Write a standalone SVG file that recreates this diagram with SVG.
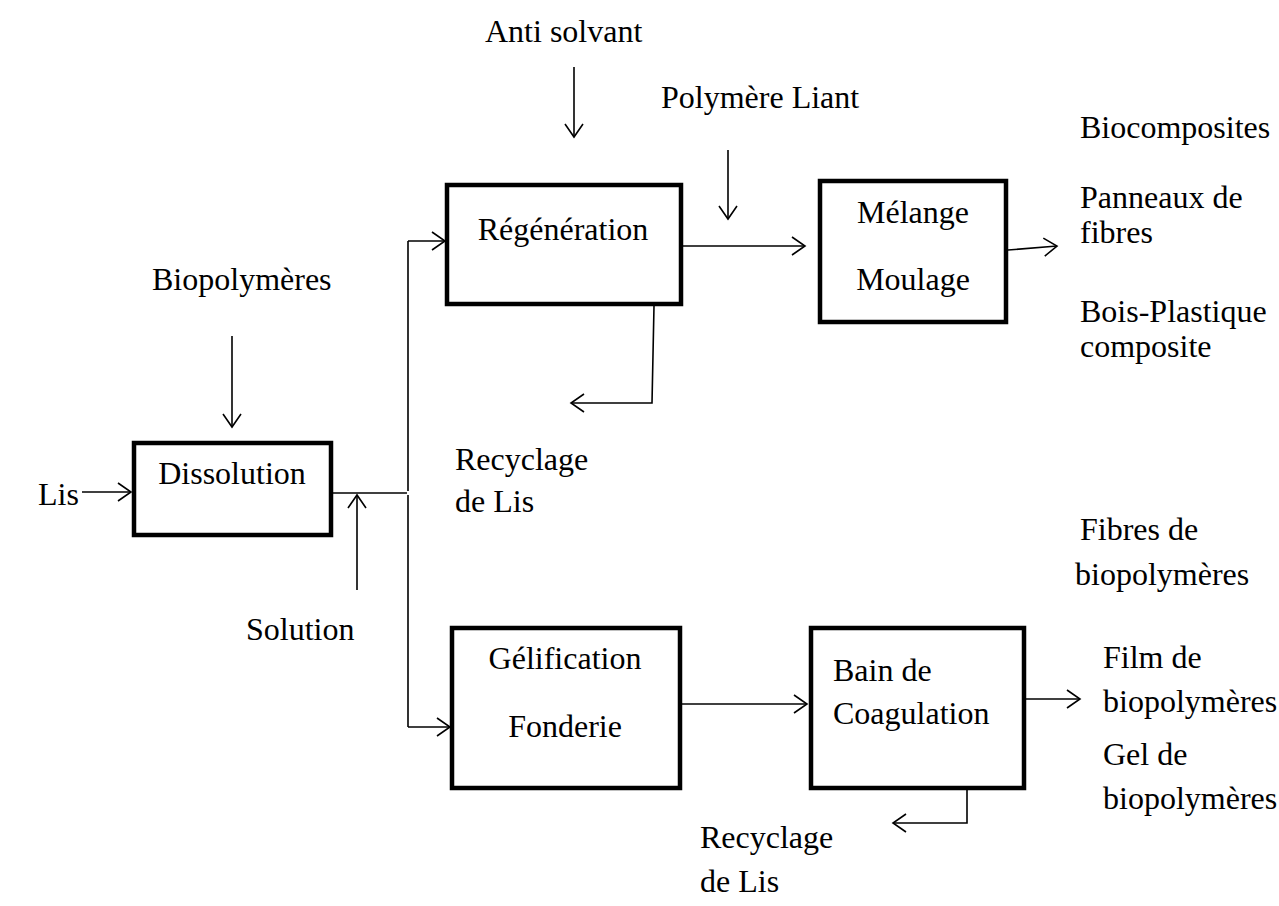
<svg xmlns="http://www.w3.org/2000/svg" width="1279" height="906" viewBox="0 0 1279 906">
<defs>
<marker id="arr" markerUnits="userSpaceOnUse" markerWidth="30" markerHeight="30" viewBox="-15 -15 30 30" refX="0" refY="0" orient="auto">
<path d="M-13,-9 L0,0 L-13,9" fill="none" stroke="#000" stroke-width="1.6"/>
</marker>
<style>
text{font-family:"Liberation Serif","Times New Roman",serif;font-size:32px;fill:#000}
.box{fill:#fff;stroke:#000;stroke-width:4.5}
.c{text-anchor:middle}
.ln{fill:none;stroke:#000;stroke-width:1.6}
.a{marker-end:url(#arr)}
</style>
</defs>
<rect width="1279" height="906" fill="#fff"/>
<g id="connectors">
<path class="ln a" d="M82,492 H131"/>
<path class="ln a" d="M232,336 V427"/>
<path class="ln" d="M333,493 H407"/>
<path class="ln" d="M408,241 V491 M408,495 V727"/>
<path class="ln a" d="M408,241 H445"/>
<path class="ln a" d="M408,727 H450"/>
<path class="ln a" d="M357,590 V495"/>
<path class="ln a" d="M574,67 V137"/>
<path class="ln a" d="M728,150 V219"/>
<path class="ln a" d="M683,246 H805"/>
<path class="ln a" d="M1008,250 L1057,246"/>
<path class="ln a" d="M654,306 L652,403 H571"/>
<path class="ln a" d="M682,704 H807"/>
<path class="ln a" d="M1026,699 H1080"/>
<path class="ln a" d="M967,790 V823 H893"/>
</g>
<g id="dissolution">
<rect class="box" x="134" y="443" width="197" height="92"/>
<text class="c" x="232" y="484">Dissolution</text>
</g>
<g id="regeneration">
<rect class="box" x="447" y="185" width="234" height="119"/>
<text class="c" x="563" y="240">Régénération</text>
</g>
<g id="melange">
<rect class="box" x="820" y="181" width="186" height="141"/>
<text class="c" x="913" y="223">Mélange</text>
<text class="c" x="913" y="290">Moulage</text>
</g>
<g id="gelification">
<rect class="box" x="452" y="628" width="228" height="160"/>
<text class="c" x="565" y="669">Gélification</text>
<text class="c" x="565" y="737">Fonderie</text>
</g>
<g id="bain">
<rect class="box" x="811" y="628" width="213" height="160"/>
<text x="833" y="681">Bain de</text>
<text x="833" y="724">Coagulation</text>
</g>
<g id="labels">
<text x="485" y="42">Anti solvant</text>
<text x="661" y="108">Polymère Liant</text>
<text x="1080" y="138">Biocomposites</text>
<text x="1080" y="208">Panneaux de</text>
<text x="1080" y="243">fibres</text>
<text x="1080" y="322">Bois-Plastique</text>
<text x="1080" y="357">composite</text>
<text x="152" y="290">Biopolymères</text>
<text x="38" y="505">Lis</text>
<text x="455" y="470">Recyclage</text>
<text x="455" y="512">de Lis</text>
<text x="246" y="640">Solution</text>
<text x="1080" y="540">Fibres de</text>
<text x="1075" y="585">biopolymères</text>
<text x="1103" y="668">Film de</text>
<text x="1103" y="712">biopolymères</text>
<text x="1103" y="765">Gel de</text>
<text x="1103" y="809">biopolymères</text>
<text x="700" y="848">Recyclage</text>
<text x="700" y="892">de Lis</text>
</g>
</svg>
